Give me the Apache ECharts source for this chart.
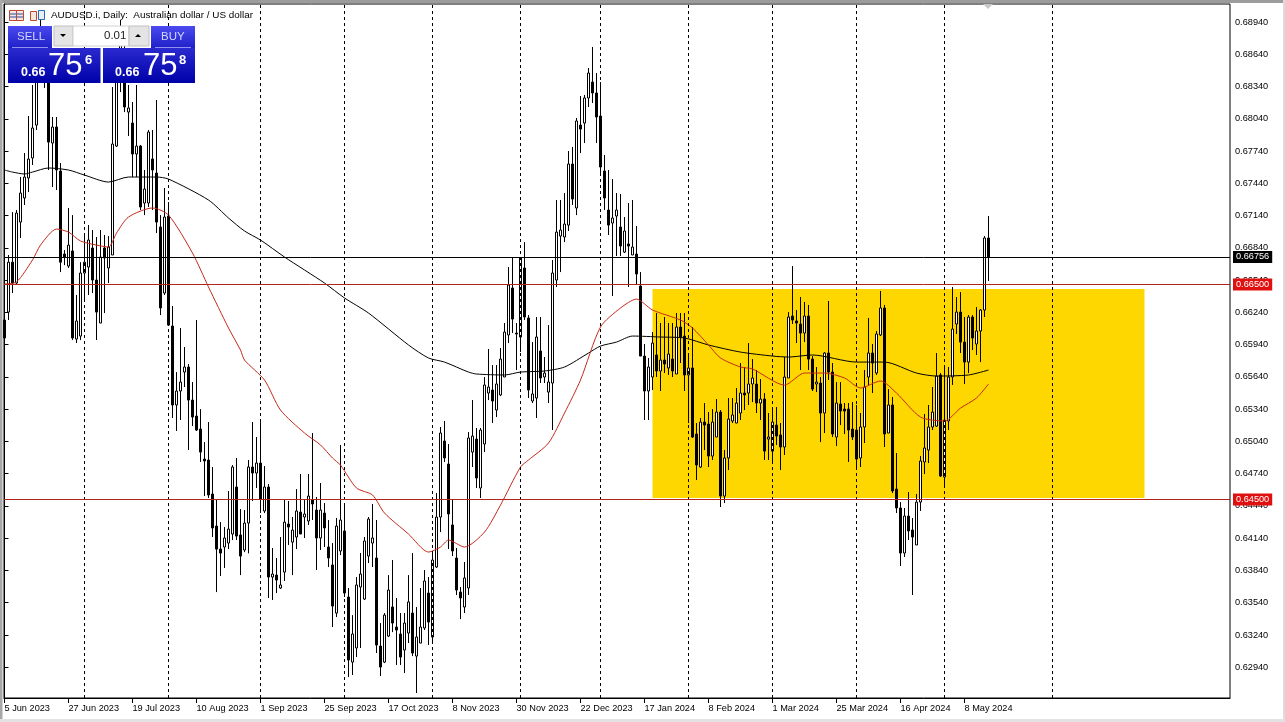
<!DOCTYPE html>
<html>
<head>
<meta charset="utf-8">
<title>AUDUSD.i, Daily</title>
<style>
html,body{margin:0;padding:0;background:#fff;}
#main{width:1285px;height:722px;}
</style>
<script src="https://cdn.jsdelivr.net/npm/echarts@6/dist/echarts.min.js"></script>
</head>
<body>
<div id="main"></div>
<script>
// daily bars, one row of ten per line
var opens = [
0.66169,0.66243,0.66707,0.66513,0.67080,0.67304,0.67490,0.67676,0.67982,0.68494,
0.68773,0.68587,0.67815,0.67964,0.67555,0.66783,0.66671,0.66811,0.65992,0.66020,
0.66606,0.66662,0.66839,0.66541,0.66141,0.66839,0.66653,0.66774,0.67787,0.68494,
0.68587,0.68103,0.68001,0.67713,0.67787,0.67257,0.67257,0.67666,0.67536,0.67034,
0.66420,0.67136,0.66113,0.65379,0.65509,0.65685,0.65732,0.65425,0.65276,0.65155,
0.64876,0.64867,0.64551,0.64253,0.64039,0.64058,0.64095,0.64179,0.64616,0.64170,
0.64030,0.64281,0.64802,0.64746,0.64839,0.64393,0.64616,0.63779,0.63797,0.63677,
0.63825,0.64272,0.64104,0.64151,0.64383,0.64337,0.64300,0.64495,0.64402,0.64142,
0.64374,0.64058,0.63891,0.63444,0.64021,0.64207,0.63593,0.62988,0.63119,0.63686,
0.63574,0.63974,0.64095,0.63956,0.63137,0.62988,0.63230,0.63500,0.63314,0.63249,
0.63100,0.63258,0.63444,0.63044,0.63165,0.63305,0.63630,0.63221,0.63872,0.64337,
0.65044,0.64830,0.64263,0.63956,0.63639,0.63500,0.63677,0.64941,0.65062,0.64607,
0.65016,0.65490,0.65518,0.65332,0.65472,0.65639,0.66030,0.66467,0.66048,0.66011,
0.66653,0.66188,0.65416,0.65444,0.65881,0.65639,0.65499,0.65583,0.66541,0.66950,
0.66941,0.67052,0.67620,0.67211,0.67982,0.68001,0.68234,0.68382,0.68280,0.68066,
0.67555,0.67192,0.67071,0.67136,0.67034,0.66801,0.66876,0.66774,0.66783,0.66485,
0.65834,0.65509,0.65639,0.65844,0.65695,0.65797,0.65723,0.65806,0.65667,0.66104,
0.66020,0.65658,0.65723,0.65109,0.64802,0.65220,0.65202,0.64904,0.65081,0.65313,
0.64532,0.64886,0.65230,0.65211,0.65304,0.65490,0.65490,0.65574,0.65574,0.65397,
0.65434,0.65062,0.64950,0.65192,0.65100,0.64988,0.65630,0.66206,0.66160,0.66132,
0.66048,0.66206,0.65806,0.65574,0.65583,0.65304,0.65862,0.65685,0.65081,0.65388,
0.65341,0.65341,0.65155,0.65146,0.64886,0.65174,0.65639,0.65862,0.65676,0.66030,
0.66281,0.65118,0.65379,0.64597,0.64421,0.64002,0.64346,0.64216,0.64077,0.64476,
0.64849,0.64960,0.65174,0.65183,0.65658,0.64709,0.65230,0.65639,0.66132,0.66243,
0.65964,0.65778,0.66197,0.65946,0.66067,0.66262,0.66932
];
var closes = [
0.66002,0.66707,0.66513,0.67164,0.67350,0.67499,0.67666,0.67955,0.68447,0.68866,
0.68494,0.67824,0.67964,0.67564,0.66707,0.66755,0.66866,0.66002,0.66160,0.66606,
0.66707,0.66913,0.66541,0.66243,0.66755,0.66746,0.66848,0.67806,0.68401,0.68773,
0.68150,0.68141,0.67713,0.67787,0.67220,0.67387,0.67917,0.67564,0.67080,0.66281,
0.67127,0.66122,0.65379,0.65509,0.65592,0.65732,0.65425,0.65267,0.65146,0.64941,
0.64858,0.64542,0.64235,0.64039,0.64002,0.64142,0.64225,0.64802,0.64160,0.63974,
0.64281,0.64802,0.64746,0.64839,0.64504,0.64616,0.63779,0.63807,0.63751,0.63705,
0.64290,0.64244,0.64216,0.64393,0.64179,0.64365,0.64532,0.64458,0.64142,0.64402,
0.64235,0.63956,0.63509,0.64253,0.64309,0.63630,0.63007,0.63249,0.63705,0.63807,
0.64114,0.64318,0.64142,0.63147,0.62942,0.63425,0.63658,0.63351,0.63286,0.63035,
0.63351,0.63547,0.63072,0.63221,0.63314,0.63742,0.63360,0.63937,0.64337,0.65118,
0.64886,0.64365,0.64021,0.63658,0.63584,0.63770,0.65072,0.65090,0.64700,0.65146,
0.65565,0.65546,0.65416,0.65574,0.65806,0.66057,0.66495,0.66178,0.66039,0.66746,
0.66197,0.65518,0.65481,0.66011,0.65630,0.65676,0.65593,0.66606,0.66987,0.67006,
0.67062,0.67620,0.67294,0.68020,0.67945,0.68234,0.68466,0.68280,0.68057,0.67592,
0.67304,0.67052,0.67118,0.67192,0.66857,0.66997,0.66857,0.66848,0.66597,0.65834,
0.65509,0.65732,0.65955,0.65695,0.65797,0.65760,0.65853,0.65695,0.66104,0.66011,
0.65658,0.65723,0.65081,0.64821,0.65220,0.65192,0.64904,0.65220,0.65313,0.64532,
0.64886,0.65248,0.65286,0.65397,0.65490,0.65472,0.65574,0.65630,0.65397,0.65434,
0.64950,0.65081,0.65220,0.65090,0.64988,0.65639,0.66197,0.66169,0.66141,0.66048,
0.66206,0.65806,0.65527,0.65592,0.65304,0.65862,0.65685,0.65109,0.65397,0.65323,
0.65323,0.65146,0.65081,0.64876,0.65174,0.65546,0.65862,0.65769,0.66039,0.66281,
0.65109,0.65379,0.64579,0.64421,0.64002,0.64346,0.64207,0.64151,0.64476,0.64858,
0.64979,0.65174,0.65313,0.65648,0.64718,0.65239,0.65639,0.66085,0.66243,0.65964,
0.65778,0.66197,0.66002,0.66067,0.66262,0.66932,0.66756
];
var lows = [
0.65983,0.66169,0.66420,0.66495,0.66932,0.67239,0.67359,0.67611,0.67936,0.68401,
0.68327,0.67564,0.67406,0.67378,0.66615,0.66680,0.66653,0.65983,0.65955,0.65983,
0.66355,0.66402,0.66420,0.65983,0.66141,0.66234,0.66513,0.66774,0.67778,0.68289,
0.68103,0.67880,0.67499,0.67499,0.67192,0.67145,0.67220,0.67192,0.66978,0.66215,
0.66402,0.66122,0.65258,0.65137,0.65239,0.65546,0.64960,0.65183,0.65137,0.64849,
0.64532,0.64514,0.64151,0.63639,0.63788,0.63863,0.64039,0.64123,0.64123,0.63797,
0.64011,0.63999,0.64486,0.64607,0.64374,0.64374,0.63584,0.63565,0.63630,0.63668,
0.63742,0.64077,0.63797,0.64039,0.64179,0.64142,0.64263,0.64309,0.63844,0.64030,
0.64058,0.63872,0.63314,0.63407,0.63983,0.63593,0.62849,0.62868,0.63035,0.63119,
0.63565,0.63909,0.63872,0.63072,0.62858,0.62979,0.63221,0.63267,0.62961,0.62961,
0.62886,0.63165,0.63044,0.62700,0.63165,0.63286,0.63147,0.63174,0.63863,0.64197,
0.64849,0.64039,0.63974,0.63612,0.63388,0.63444,0.63612,0.64802,0.64607,0.64514,
0.64941,0.65425,0.65211,0.65267,0.65462,0.65639,0.65955,0.66048,0.65704,0.65871,
0.66169,0.65444,0.65397,0.65258,0.65583,0.65583,0.65397,0.65146,0.66476,0.66615,
0.66894,0.66997,0.67239,0.67145,0.67722,0.67815,0.68150,0.68187,0.67815,0.67536,
0.67192,0.66960,0.66392,0.66764,0.66764,0.66792,0.66476,0.66774,0.66495,0.65834,
0.65239,0.65239,0.65518,0.65639,0.65509,0.65676,0.65658,0.65639,0.65667,0.65769,
0.65509,0.65211,0.65072,0.64681,0.64793,0.64960,0.64802,0.64867,0.65081,0.64430,
0.64467,0.64774,0.65211,0.65211,0.65239,0.65332,0.65379,0.65406,0.65304,0.65239,
0.64867,0.64867,0.64849,0.65007,0.64774,0.64914,0.65630,0.66132,0.65955,0.65704,
0.65964,0.65704,0.65509,0.65499,0.65034,0.65118,0.65611,0.65081,0.64997,0.65192,
0.65109,0.64849,0.65053,0.64793,0.64802,0.65025,0.65565,0.65490,0.65658,0.66020,
0.64988,0.65118,0.64560,0.64374,0.63881,0.63965,0.64123,0.63612,0.64077,0.64393,
0.64737,0.64839,0.65146,0.65174,0.64709,0.64616,0.65146,0.65565,0.66039,0.65862,
0.65574,0.65676,0.65890,0.65844,0.65778,0.66197,0.66532
];
var highs = [
0.66169,0.66774,0.67173,0.67192,0.67499,0.67722,0.68066,0.68355,0.68587,0.68978,
0.68866,0.68773,0.68057,0.68057,0.67629,0.66820,0.67211,0.67145,0.66402,0.66707,
0.66978,0.67053,0.67006,0.66941,0.67006,0.66960,0.66950,0.68336,0.68587,0.68959,
0.68773,0.68355,0.68196,0.68355,0.67797,0.67564,0.67936,0.67936,0.68215,0.67145,
0.67397,0.67266,0.66299,0.65685,0.66095,0.65918,0.65760,0.65592,0.66169,0.65341,
0.65034,0.65220,0.64802,0.64504,0.64290,0.64244,0.64579,0.64820,0.64886,0.64411,
0.64402,0.64867,0.65220,0.65081,0.65220,0.64811,0.64644,0.64049,0.63956,0.64151,
0.64495,0.64486,0.64337,0.64597,0.64737,0.64495,0.64737,0.65118,0.64523,0.64653,
0.64467,0.64309,0.64095,0.64328,0.65007,0.64467,0.63677,0.63425,0.63779,0.64002,
0.64151,0.64337,0.64458,0.64309,0.63351,0.63444,0.63797,0.63937,0.63584,0.63444,
0.63444,0.63797,0.64002,0.63500,0.63677,0.63844,0.63779,0.64002,0.64560,0.65174,
0.65230,0.65016,0.64495,0.64049,0.63686,0.63919,0.65127,0.65425,0.65165,0.65165,
0.65639,0.65900,0.65750,0.65750,0.65909,0.66141,0.66662,0.66755,0.66141,0.66755,
0.66894,0.66215,0.65964,0.66197,0.66197,0.65825,0.66122,0.66727,0.67285,0.67285,
0.67350,0.67741,0.67778,0.68048,0.68252,0.68262,0.68513,0.68708,0.68466,0.68382,
0.67704,0.67564,0.67480,0.67350,0.67341,0.67127,0.67257,0.67285,0.67043,0.66615,
0.65946,0.65816,0.66057,0.66234,0.66141,0.66197,0.66141,0.66141,0.66234,0.66234,
0.66234,0.65844,0.66104,0.65211,0.65258,0.65397,0.65313,0.65341,0.65434,0.65332,
0.64960,0.65444,0.65444,0.65537,0.65769,0.65732,0.65955,0.65806,0.65704,0.65620,
0.65490,0.65304,0.65360,0.65360,0.65211,0.65825,0.66243,0.66671,0.66262,0.66383,
0.66337,0.66309,0.65834,0.65732,0.65639,0.65871,0.66346,0.65769,0.65592,0.65592,
0.65397,0.65397,0.65406,0.65379,0.65304,0.65704,0.66188,0.65946,0.66067,0.66439,
0.66309,0.65527,0.65453,0.64932,0.64476,0.64421,0.64569,0.64328,0.64551,0.64904,
0.65295,0.65379,0.65546,0.65862,0.65676,0.65732,0.65732,0.66476,0.66383,0.66429,
0.66197,0.66215,0.66215,0.66290,0.66271,0.66950,0.67136
];

// moving averages, read at the bends of each line
var maSlowBars = [0,2,5,7,11,16,20,26,31,38,41,51,56,60,64,70,80,85,91,101,106,110,116,118,125,129,135,140,146,149,153,157,164,170,176,184,192,196,202,213,220,228,233,241,246];
var maSlowValues = [0.67564,0.67545,0.67527,0.67545,0.67583,0.67564,0.67517,0.67452,0.67499,0.67499,0.67480,0.67285,0.67118,0.66997,0.66913,0.66755,0.66513,0.66374,0.66234,0.65937,0.65816,0.65778,0.65685,0.65667,0.65658,0.65685,0.65695,0.65732,0.65862,0.65927,0.65964,0.66020,0.66011,0.66002,0.65937,0.65871,0.65834,0.65825,0.65844,0.65778,0.65778,0.65676,0.65648,0.65658,0.65704];
var maFastBars = [0,3,7,9,13,16,19,23,26,28,31,37,41,47,51,56,59,60,65,69,75,79,82,84,88,92,95,101,106,109,111,115,120,124,129,131,136,140,144,149,154,158,162,169,172,176,179,184,187,195,200,205,210,214,219,223,229,235,239,243,246];
var maFastValues = [0.66504,0.66523,0.66727,0.66866,0.67015,0.66987,0.66904,0.66866,0.66848,0.66978,0.67127,0.67211,0.67145,0.66792,0.66476,0.66095,0.65890,0.65797,0.65611,0.65332,0.65118,0.65007,0.64886,0.64820,0.64607,0.64542,0.64374,0.64179,0.64011,0.64058,0.64123,0.64058,0.64197,0.64448,0.64802,0.64867,0.65025,0.65304,0.65611,0.66104,0.66281,0.66364,0.66262,0.66169,0.66095,0.65937,0.65816,0.65732,0.65714,0.65564,0.65676,0.65676,0.65630,0.65537,0.65602,0.65490,0.65267,0.65230,0.65350,0.65444,0.65574];

var dateTicks = [0,16,32,48,64,80,96,112,128,144,160,176,192,208,224,240];
var dateLabels = ['5 Jun 2023','27 Jun 2023','19 Jul 2023','10 Aug 2023','1 Sep 2023','25 Sep 2023','17 Oct 2023','8 Nov 2023','30 Nov 2023','22 Dec 2023','17 Jan 2024','8 Feb 2024','1 Mar 2024','25 Mar 2024','16 Apr 2024','8 May 2024'];
var priceTicks = [0.68940,0.68640,0.68340,0.68040,0.67740,0.67440,0.67140,0.66840,0.66540,0.66240,0.65940,0.65640,0.65340,0.65040,0.64740,0.64440,0.64140,0.63840,0.63540,0.63240,0.62940];
var periodBars = [20,41,64,85,107,129,149,171,192,213,235,262];
var bidPrice = 0.66756;
var redLevels = [0.66500,0.64500];
var zoneBars = [162,285];
var zonePrices = [0.66457,0.64514];

var xMin = -0.125, xMax = 306.375, yMin = 0.62654, yMax = 0.69108;

var candles = opens.map(function(o,i){
    return [i,o,closes[i],lows[i],highs[i]];
});
function pairs(xs,ys){
    return xs.map(function(x,i){return [x,ys[i]];});
}
function levelLine(price,color,boxColor){
    return [{
        coord:[xMin,price],
        lineStyle:{color:color,width:1,type:'solid'},
        label:{show:true,position:'end',distance:3,formatter:price.toFixed(5),color:'#fff',backgroundColor:boxColor,fontSize:9.2,fontFamily:axisFont,padding:[2,3,1,3]}
    },{coord:[xMax,price]}];
}

var uiFont = '"Liberation Sans",Arial,sans-serif';
var axisFont = uiFont;
var btnFill = {type:'linear',x:0,y:0,x2:0,y2:1,colorStops:[{offset:0,color:'#4a4af0'},{offset:1,color:'#2020c8'}]};
var priceFill = {type:'linear',x:0,y:0,x2:0,y2:1,colorStops:[{offset:0,color:'#2a2ad0'},{offset:1,color:'#0000a8'}]};
function rect(x,y,w,h,fill,stroke){
    return {type:'rect',shape:{x:x,y:y,width:w,height:h},style:{fill:fill,stroke:stroke||null,lineWidth:1},z:20};
}
function label(x,y,str,size,color,weight){
    return {type:'text',x:x,y:y,style:{text:str,fill:color,font:(weight||'normal')+' '+size+'px '+uiFont,textVerticalAlign:'middle'},z:21};
}
function seg(x1,y1,x2,y2,color){
    return {type:'line',shape:{x1:x1,y1:y1,x2:x2,y2:y2},style:{stroke:color,lineWidth:1},z:21};
}
function poly(points,fill){
    return {type:'polygon',shape:{points:points},style:{fill:fill},z:21};
}

var panel = [
    // window edge
    rect(0,0,1285,3,'#9c9c9c'),
    rect(0,0,2.5,722,'#a8a8a8'),
    rect(1283,0,2,722,'#dcdcdc'),
    rect(0,719,1285,3,'#e2e2e2'),
    poly([[983,4],[993,4],[988,9]],'#c8c8c8'),
    // toolbar icons
    rect(9.5,10.5,14,10,'#f4e8e4','#c04a30'),
    seg(10,14,23,14,'#2a4aa0'),seg(10,17,23,17,'#2a4aa0'),seg(16.5,11,16.5,20,'#c04a30'),
    rect(30.5,11.5,6,9,'#f6e6e0','#c04a30'),
    rect(38.5,10.5,6,9,'#e6eef8','#2a6ab0'),
    label(51,15.5,'AUDUSD.i, Daily:  Australian dollar / US dollar',9.9,'#000'),
    // trade panel
    rect(8,26,44,22,btnFill),
    label(17,36.5,'SELL',11.5,'#d0d8ff'),
    seg(12,47.5,48,47.5,'#9090f0'),
    rect(54,26,19,20,'#e4e4e4','#c0c0c0'),
    poly([[60,34],[66,34],[63,37]],'#000'),
    rect(73,26,56,20,'#fff','#d0d0d0'),
    label(104,35.5,'0.01',11.5,'#222'),
    rect(129,26,20,20,'#e4e4e4','#c0c0c0'),
    poly([[135,37],[141,37],[138,34]],'#000'),
    rect(151,26,44,22,btnFill),
    label(161,36.5,'BUY',11.5,'#d0d8ff'),
    seg(155,47.5,191,47.5,'#9090f0'),
    rect(8,48,92.5,35,priceFill),
    rect(103,48,92,35,priceFill),
    label(21,72.5,'0.66',12.5,'#fff','bold'),
    label(48,66,'75',31,'#fff'),
    label(85,60,'6',13,'#fff','bold'),
    label(115,72.5,'0.66',12.5,'#fff','bold'),
    label(143,66,'75',31,'#fff'),
    label(179,60,'8',13,'#fff','bold')
];

var myChart = echarts.init(document.getElementById('main'));
myChart.setOption({
    animation:false,
    backgroundColor:'#fff',
    textStyle:{fontFamily:uiFont},
    grid:{left:4,top:4,right:55,bottom:24,show:true,borderColor:'#000',borderWidth:1,backgroundColor:'#fff'},
    xAxis:{
        type:'value',
        min:xMin,
        max:xMax,
        splitLine:{show:false},
        axisLine:{show:true,lineStyle:{color:'#000'}},
        axisTick:{show:true,length:5,customValues:dateTicks,lineStyle:{color:'#000'}},
        axisLabel:{
            customValues:dateTicks,
            align:'left',
            margin:6,
            color:'#000',
            fontSize:9.2,
            fontFamily:axisFont,
            formatter:function(v){return dateLabels[dateTicks.indexOf(v)];}
        }
    },
    yAxis:{
        type:'value',
        position:'right',
        min:yMin,
        max:yMax,
        splitLine:{show:false},
        axisLine:{show:true,lineStyle:{color:'#000'}},
        axisTick:{show:true,length:4,customValues:priceTicks,lineStyle:{color:'#000'}},
        axisLabel:{
            customValues:priceTicks,
            margin:5,
            color:'#000',
            fontSize:9.2,
            fontFamily:axisFont,
            formatter:function(v){return v.toFixed(5);}
        }
    },
    series:[
        {
            name:'zone',
            type:'line',
            z:1,
            data:[],
            markArea:{
                silent:true,
                itemStyle:{color:'#ffd700'},
                data:[[{xAxis:zoneBars[0],yAxis:zonePrices[0]},{xAxis:zoneBars[1],yAxis:zonePrices[1]}]]
            }
        },
        {
            name:'AUDUSD.i',
            type:'candlestick',
            z:2,
            barWidth:3,
            data:candles,
            itemStyle:{color:'#fff',color0:'#000',borderColor:'#000',borderColor0:'#000',borderWidth:1}
        },
        {
            name:'slow average',
            type:'line',
            z:3,
            showSymbol:false,
            smooth:0.25,
            data:pairs(maSlowBars,maSlowValues),
            lineStyle:{color:'#000',width:1}
        },
        {
            name:'fast average',
            type:'line',
            z:3,
            showSymbol:false,
            smooth:0.25,
            data:pairs(maFastBars,maFastValues),
            lineStyle:{color:'#c42a1c',width:1}
        },
        {
            name:'levels',
            type:'line',
            z:4,
            data:[],
            markLine:{
                silent:true,
                symbol:'none',
                animation:false,
                data:periodBars.map(function(b){
                    return [{coord:[b,yMin],label:{show:false},lineStyle:{color:'#000',width:1,type:[3,3]}},{coord:[b,yMax]}];
                }).concat([levelLine(bidPrice,'#000','#000')]).concat(redLevels.map(function(p){
                    return levelLine(p,'#b0241c','#e01010');
                }))
            }
        }
    ],
    graphic:{elements:panel}
});
</script>
</body>
</html>
